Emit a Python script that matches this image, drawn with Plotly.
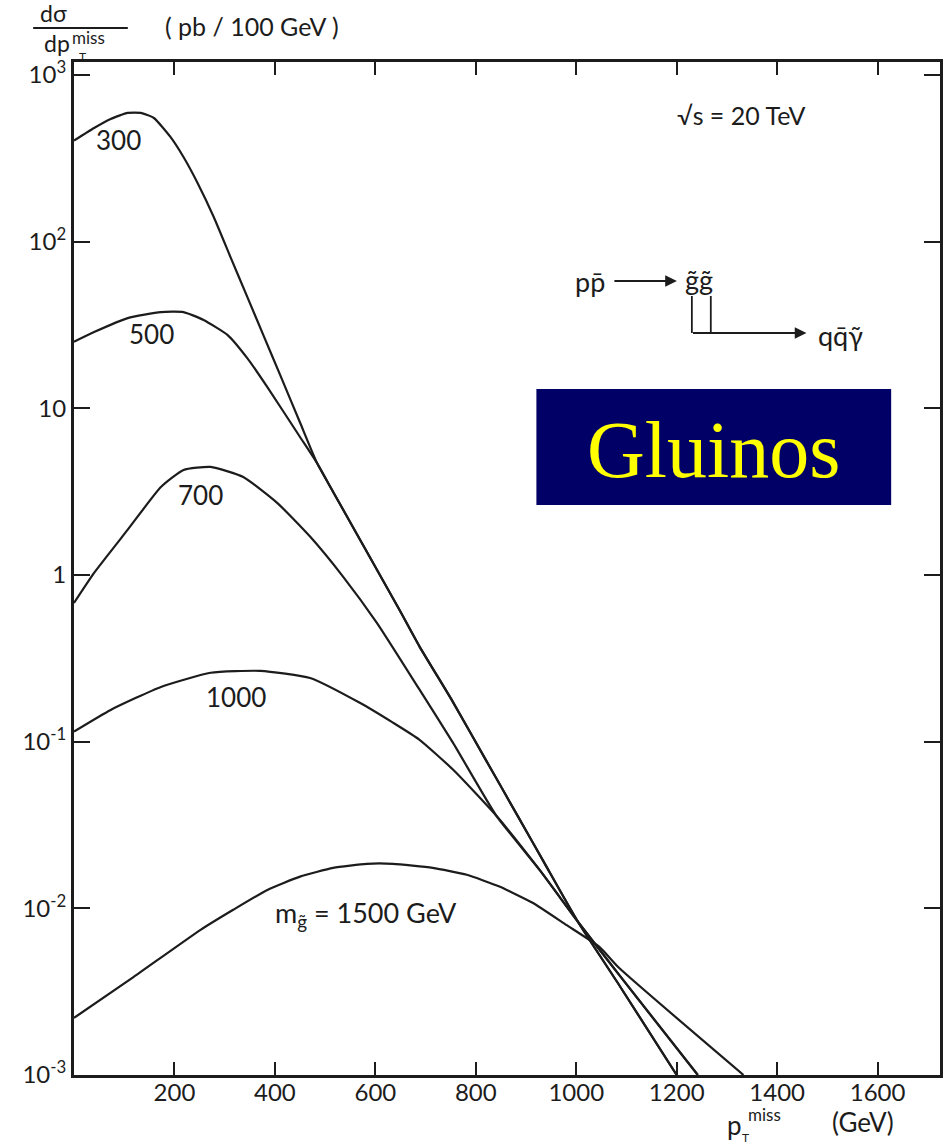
import plotly.graph_objects as go

# ---------------- data ----------------
pt_300 = [0, 40, 73, 107, 133, 159, 192, 218, 246, 278, 312, 345, 377, 411, 450, 484, 516, 583, 649, 688, 754, 821, 887, 937, 1002, 1085, 1200]
xs_300 = [404, 481, 545, 592, 592, 552, 425, 322, 225, 141, 80.2, 46.6, 27.5, 15.7, 8.22, 4.69, 3.15, 1.38, 0.61, 0.372, 0.174, 0.0767, 0.0343, 0.0186, 0.00843, 0.00348, 0.001]

pt_500 = [0, 40, 107, 173, 218, 258, 306, 345, 385, 450, 484, 516, 583, 649, 688, 754, 821, 887, 937, 1002, 1085, 1200]
xs_500 = [25.1, 28.7, 34.8, 37.8, 37.8, 33.9, 27.5, 20.0, 13.4, 6.73, 4.69, 3.15, 1.38, 0.61, 0.372, 0.174, 0.0767, 0.0343, 0.0186, 0.00843, 0.00348, 0.001]

pt_700 = [0, 40, 107, 173, 218, 272, 337, 405, 470, 536, 603, 688, 755, 841, 927, 1002, 1085, 1242]
xs_700 = [0.68, 1.03, 1.87, 3.37, 4.27, 4.45, 3.87, 2.70, 1.70, 0.975, 0.516, 0.205, 0.098, 0.0359, 0.0170, 0.00841, 0.0040, 0.001]

pt_1000 = [0, 73, 173, 272, 371, 470, 569, 635, 688, 755, 841, 927, 1002, 1085, 1242]
xs_1000 = [0.115, 0.155, 0.213, 0.259, 0.266, 0.241, 0.171, 0.130, 0.1026, 0.0678, 0.0359, 0.0170, 0.00841, 0.0040, 0.001]

pt_1500 = [0, 119, 252, 317, 385, 450, 516, 583, 635, 714, 782, 847, 913, 980, 1046, 1085, 1333]
xs_1500 = [0.0022, 0.00388, 0.00743, 0.0098, 0.0129, 0.0155, 0.0175, 0.0185, 0.0185, 0.0175, 0.0159, 0.0135, 0.0108, 0.00796, 0.00587, 0.0044, 0.001]

x_ticks = [200, 400, 600, 800, 1000, 1200, 1400, 1600]
y_tickvals = [1e-3, 1e-2, 1e-1, 1, 10, 100, 1000]
y_ticktext = ["10<sup>-3</sup>", "10<sup>-2</sup>", "10<sup>-1</sup>", "1", "10", "10<sup>2</sup>", "10<sup>3</sup>"]

curves = [("300", pt_300, xs_300), ("500", pt_500, xs_500), ("700", pt_700, xs_700),
          ("1000", pt_1000, xs_1000), ("1500", pt_1500, xs_1500)]

# ---------------- layout geometry ----------------
W, H = 944, 1145
ML, MR, MT, MB = 74, 1, 62, 70
PW, PH = W - ML - MR, H - MT - MB


def px(x):
    return (x - ML) / PW


def py(y):
    return (H - MB - y) / PH


INK = "#1c1c1c"
SANS = "Lato, 'Noto Sans', sans-serif"

fig = go.Figure()
for name, xv, yv in curves:
    fig.add_trace(go.Scatter(x=xv, y=yv, mode="lines", name=name,
                             line=dict(color=INK, width=2.2, shape="spline", smoothing=0.5),
                             showlegend=False, hoverinfo="skip"))

fig.update_xaxes(range=[0, PW / 0.504], tickvals=x_ticks, ticks="inside", ticklen=13,
                 tickwidth=2, tickcolor=INK, showline=True, linewidth=3, linecolor=INK,
                 mirror="ticks", showgrid=False, zeroline=False, ticklabelstandoff=-6,
                 tickfont=dict(family=SANS, size=24, color=INK))
fig.update_yaxes(type="log", range=[-3, 3.078], tickvals=y_tickvals, ticktext=y_ticktext,
                 ticks="inside", ticklen=16, tickwidth=2, tickcolor=INK, showline=True,
                 linewidth=3, linecolor=INK, mirror="ticks", showgrid=False, zeroline=False,
                 tickfont=dict(family=SANS, size=24, color=INK))

ann = []


def text(x, y, s, size=20, color=INK, family=SANS, xanchor="center"):
    ann.append(dict(x=px(x), y=py(y), xref="paper", yref="paper", text=s, showarrow=False,
                    font=dict(family=family, size=size, color=color), xanchor=xanchor,
                    yanchor="middle"))


# y-axis title (fraction)
text(53, 13, "dσ", 23)
text(57, 43, "dp", 23)
text(70, 37, "miss", 17, xanchor="left")
text(83, 57, "T", 12)
text(253, 26, "( pb / 100 GeV )", 25)

# x-axis title
text(737, 1125, "p", 26)
text(748, 1114, "miss", 17, xanchor="left")
text(748, 1137, "T", 12)
text(866, 1122, "(GeV)", 26)

# curve labels
text(119, 140, "300", 26)
text(152, 334, "500", 26)
text(201, 495, "700", 26)
text(237, 697, "1000", 26)
text(367, 914, "m<sub>g̃</sub> = 1500 GeV", 27)

# annotations top right
text(743, 115, "√s = 20 TeV", 25)
text(592, 281, "pp̄", 27)
text(701, 280, "g̃g̃", 27)
text(843, 335, "qq̄γ̃", 27)

# Gluinos label
text(716, 450, "Gluinos", 80, color="#FFFF00", family="'Liberation Serif', 'Times New Roman', serif")

# arrows
ann.append(dict(x=px(679), y=py(281), xref="paper", yref="paper", ax=-64, ay=0, text="",
                showarrow=True, arrowhead=2, arrowsize=1.3, arrowwidth=1.8, arrowcolor=INK))
ann.append(dict(x=px(809), y=py(333), xref="paper", yref="paper", ax=-115, ay=0, text="",
                showarrow=True, arrowhead=2, arrowsize=1.3, arrowwidth=1.8, arrowcolor=INK))

shapes = [
    dict(type="rect", xref="paper", yref="paper", x0=px(538), x1=px(894), y0=py(505), y1=py(389),
         fillcolor="#000066", line=dict(width=0), layer="below"),
    dict(type="line", xref="paper", yref="paper", x0=px(33), x1=px(128), y0=py(28), y1=py(28),
         line=dict(color=INK, width=2)),
    dict(type="line", xref="paper", yref="paper", x0=px(694), x1=px(694), y0=py(296), y1=py(333),
         line=dict(color=INK, width=1.8)),
    dict(type="line", xref="paper", yref="paper", x0=px(713), x1=px(713), y0=py(296), y1=py(333),
         line=dict(color=INK, width=1.8)),
]

fig.update_layout(width=W, height=H, margin=dict(l=ML, r=MR, t=MT, b=MB),
                  paper_bgcolor="white", plot_bgcolor="white",
                  annotations=ann, shapes=shapes, showlegend=False)

fig.write_html("out.html")
